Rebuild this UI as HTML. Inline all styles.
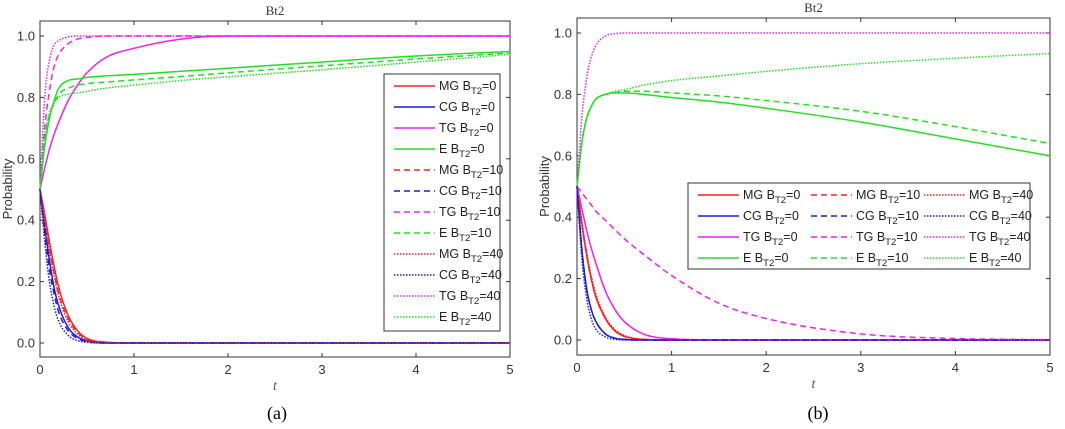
<!DOCTYPE html>
<html><head><meta charset="utf-8"><style>
body{margin:0;background:#fff;width:1065px;height:429px;overflow:hidden}
svg{display:block;font-family:"Liberation Sans",sans-serif}
</style></head><body>
<svg id="fig" width="1065" height="429"></svg>
<script>
const times=[0,0.05,0.1,0.15,0.2,0.3,0.4,0.5,0.7,1,1.5,2,3,4,5];
const seriesNames=["MG","CG","TG","E"];
const levels=["0","10","40"];
const yTicks=[0,0.2,0.4,0.6,0.8,1.0];
const xTicks=[0,1,2,3,4,5];
// panel a
const aMG0=[0.5,0.42,0.33,0.25,0.18,0.09,0.04,0.015,0.003,0,0,0,0,0,0];
const aCG0=[0.5,0.38,0.27,0.18,0.12,0.05,0.02,0.007,0,0,0,0,0,0,0];
const aTG0=[0.5,0.57,0.63,0.68,0.72,0.79,0.84,0.88,0.93,0.96,0.99,1,1,1,1];
const aE0=[0.5,0.64,0.73,0.79,0.83,0.855,0.86,0.865,0.87,0.875,0.885,0.895,0.915,0.935,0.95];
const aMG10=[0.5,0.41,0.31,0.23,0.16,0.08,0.035,0.012,0.002,0,0,0,0,0,0];
const aCG10=[0.5,0.36,0.24,0.16,0.1,0.04,0.015,0.005,0,0,0,0,0,0,0];
const aTG10=[0.5,0.7,0.82,0.9,0.94,0.975,0.99,0.995,1,1,1,1,1,1,1];
const aE10=[0.5,0.66,0.74,0.78,0.81,0.83,0.84,0.845,0.85,0.857,0.868,0.88,0.903,0.925,0.945];
const aMG40=[0.5,0.4,0.3,0.22,0.15,0.07,0.03,0.01,0,0,0,0,0,0,0];
const aCG40=[0.5,0.33,0.2,0.12,0.07,0.025,0.008,0.002,0,0,0,0,0,0,0];
const aTG40=[0.5,0.8,0.92,0.97,0.985,0.997,1,1,1,1,1,1,1,1,1];
const aE40=[0.5,0.67,0.75,0.78,0.8,0.81,0.815,0.82,0.83,0.84,0.855,0.867,0.89,0.915,0.94];
// panel b
const bMG0=[0.5,0.38,0.28,0.2,0.14,0.07,0.03,0.012,0.002,0,0,0,0,0,0];
const bCG0=[0.5,0.3,0.17,0.1,0.06,0.02,0.006,0.002,0,0,0,0,0,0,0];
const bTG0=[0.5,0.43,0.36,0.3,0.25,0.16,0.1,0.06,0.02,0.004,0,0,0,0,0];
const bE0=[0.5,0.64,0.72,0.76,0.785,0.8,0.805,0.805,0.8,0.79,0.775,0.755,0.71,0.655,0.6];
const bMG10=[0.5,0.38,0.28,0.2,0.14,0.07,0.03,0.012,0.002,0,0,0,0,0,0];
const bCG10=[0.5,0.3,0.17,0.1,0.06,0.02,0.006,0.002,0,0,0,0,0,0,0];
const bTG10=[0.5,0.48,0.46,0.44,0.42,0.39,0.36,0.33,0.28,0.21,0.12,0.07,0.02,0.005,0.001];
const bE10=[0.5,0.64,0.72,0.76,0.785,0.8,0.805,0.81,0.81,0.805,0.795,0.78,0.745,0.695,0.64];
const bMG40=[0.5,0.39,0.29,0.21,0.15,0.075,0.035,0.015,0.002,0,0,0,0,0,0];
const bCG40=[0.5,0.27,0.14,0.07,0.035,0.01,0.002,0,0,0,0,0,0,0,0];
const bTG40=[0.5,0.72,0.85,0.92,0.96,0.99,0.998,1,1,1,1,1,1,1,1];
const bE40=[0.5,0.64,0.72,0.76,0.785,0.8,0.81,0.815,0.83,0.845,0.86,0.875,0.9,0.918,0.933];

const colors={MG:"#ff2020",CG:"#1a1ae0",TG:"#f020f0",E:"#22e022"};
const dashes={"0":"","10":"6,4","40":"1.5,1.5"};
const NS="http://www.w3.org/2000/svg";
const svg=document.getElementById('fig');
function el(tag,attrs,parent){const e=document.createElementNS(NS,tag);for(const k in attrs)e.setAttribute(k,attrs[k]);(parent||svg).appendChild(e);return e;}

// monotone cubic path (Fritsch-Carlson)
function monoPath(X,Y){
  const n=X.length,d=[],m=[];
  for(let i=0;i<n-1;i++)d.push((Y[i+1]-Y[i])/(X[i+1]-X[i]));
  m[0]=d[0];m[n-1]=d[n-2];
  for(let i=1;i<n-1;i++){m[i]=(d[i-1]*d[i]<=0)?0:(d[i-1]+d[i])/2;}
  for(let i=0;i<n-1;i++){
    if(d[i]===0){m[i]=0;m[i+1]=0;continue;}
    const a=m[i]/d[i],b=m[i+1]/d[i],s=a*a+b*b;
    if(s>9){const t=3/Math.sqrt(s);m[i]=t*a*d[i];m[i+1]=t*b*d[i];}
  }
  let p='M'+X[0].toFixed(1)+','+Y[0].toFixed(1);
  for(let i=0;i<n-1;i++){
    const h=(X[i+1]-X[i])/3;
    p+=` C${(X[i]+h).toFixed(1)},${(Y[i]+m[i]*h).toFixed(1)} ${(X[i+1]-h).toFixed(1)},${(Y[i+1]-m[i+1]*h).toFixed(1)} ${X[i+1].toFixed(1)},${Y[i+1].toFixed(1)}`;
  }
  return p;
}

function panel(p){
  const g=el('g',{});
  
  
  const xs=v=>p.x0+(p.x1-p.x0)*v/5;
  const ys=v=>p.y0+(p.y1-p.y0)*v;
  const box=el('rect',{x:p.x0,y:p.top,width:p.x1-p.x0,height:p.bot-p.top,fill:'#fff',stroke:'#333','stroke-width':1},g);
  
  
  yTicks.forEach(v=>{
    const y=ys(v);
    el('line',{x1:p.x0,x2:p.x0+4,y1:y,y2:y,stroke:'#333'},g);
    el('line',{x1:p.x1,x2:p.x1-4,y1:y,y2:y,stroke:'#333'},g);
    const t=el('text',{x:p.x0-5,y:y+4.5,'text-anchor':'end','font-size':13,fill:'#333'},g);
    t.textContent=v.toFixed(1);
    
    
  });
  xTicks.forEach(v=>{
    const x=xs(v);
    el('line',{x1:x,x2:x,y1:p.bot,y2:p.bot-4,stroke:'#333'},g);
    el('line',{x1:x,x2:x,y1:p.top,y2:p.top+4,stroke:'#333'},g);
    const t=el('text',{x:x,y:p.bot+17,'text-anchor':'middle','font-size':13,fill:'#333'},g);
    t.textContent=v;
    
    
  });
  const ttl=el('text',{x:(p.x0+p.x1)/2,y:p.top-6,'text-anchor':'middle','font-size':13,'font-family':'Liberation Serif,serif',fill:'#333'},g);
  ttl.textContent='Bt2';
  
  
  const xl=el('text',{x:(p.x0+p.x1)/2,y:p.bot+33,'text-anchor':'middle','font-size':14,'font-style':'italic','font-family':'Liberation Serif,serif',fill:'#555'},g);
  xl.textContent='t';
  
  
  const yl=el('text',{x:0,y:0,transform:`translate(${p.x0-28},${(p.top+p.bot)/2}) rotate(-90)`,'text-anchor':'middle','font-size':13,fill:'#333'},g);
  yl.textContent='Probability';
  
  
  const cap=el('text',{x:p.cap,y:419,'text-anchor':'middle','font-size':18,'font-family':'Liberation Serif,serif',fill:'#000'},g);
  cap.textContent=p.label;
  
  
  const order=[];
  levels.forEach(l=>seriesNames.forEach(s=>order.push([s,l])));
  order.forEach(([s,l])=>{
    const vals=p.data[s+l];
    const path=monoPath(times.map(xs),vals.map(ys));
    const pl=el('path',{d:path,fill:'none',stroke:colors[s],'stroke-width':1.5,'stroke-dasharray':dashes[l],'stroke-linejoin':'round'},g);
    
    
  });
  const lg=el('g',{},g);
  
  
  const L=p.leg;
  el('rect',{x:L.x,y:L.y,width:L.w,height:L.h,fill:'#fff',stroke:'#333'},lg);
  order.forEach(([s,l],i)=>{
    const col=p.cols===1?0:Math.floor(i/4);
    const row=p.cols===1?i:i%4;
    const ex=L.x+8+col*L.cw, ey=L.y+12+row*L.rh;
    const ent=el('g',{},lg);
    
    
    el('line',{x1:ex+2,x2:ex+L.ll,y1:ey,y2:ey,stroke:colors[s],'stroke-width':1.5,'stroke-dasharray':dashes[l]},ent);
    const t=el('text',{x:ex+L.ll+4,y:ey+4,'font-size':12.5,fill:'#222'},ent);
    t.innerHTML=`${s} B<tspan font-size="9.5" dy="4">T2</tspan><tspan dy="-4">=${l}</tspan>`;
  });
}
panel({id:'a',label:'(a)',cap:277,x0:40,x1:510,top:21,bot:357,y0:343,y1:36,
  data:{MG0:aMG0,CG0:aCG0,TG0:aTG0,E0:aE0,MG10:aMG10,CG10:aCG10,TG10:aTG10,E10:aE10,MG40:aMG40,CG40:aCG40,TG40:aTG40,E40:aE40},
  cols:1,leg:{x:384,y:74,w:116,h:257,cw:0,rh:21,ll:43}});
panel({id:'b',label:'(b)',cap:818,x0:577,x1:1050,top:18,bot:355,y0:340,y1:33,
  data:{MG0:bMG0,CG0:bCG0,TG0:bTG0,E0:bE0,MG10:bMG10,CG10:bCG10,TG10:bTG10,E10:bE10,MG40:bMG40,CG40:bCG40,TG40:bTG40,E40:bE40},
  cols:3,leg:{x:688,y:183,w:342,h:86,cw:113,rh:21,ll:43}});
</script>
</body></html>
